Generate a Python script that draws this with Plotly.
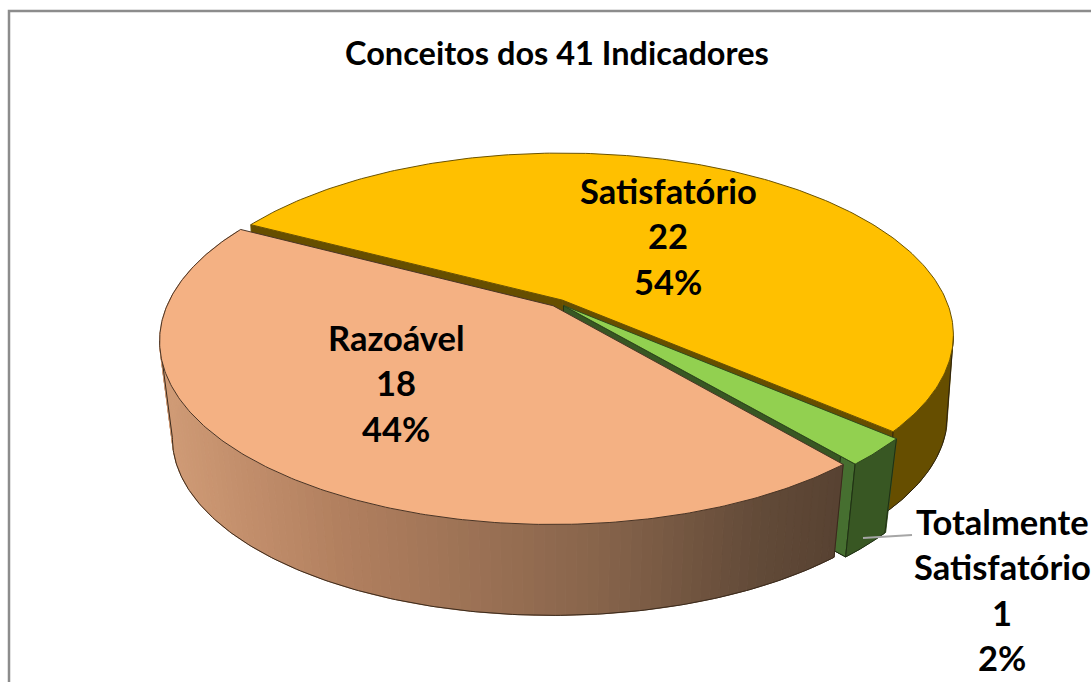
import numpy as np
import plotly.graph_objects as go

# DATA
categories = ['Satisfatório', 'Totalmente Satisfatório', 'Razoável']
values = [22, 1, 18]
title_text = 'Conceitos dos 41 Indicadores'

# PIE GEOMETRY (screen pixels)
START_ANGLE = 152
CX, CY = 558, 303
RX, RY = 385, 176
PERSP = 0.19
EXPLODE = 0.02
bottom_scales = [0.985, 0.968, 0.968]
bottom_drops = [81, 98, 98]

top_colors = ['#FFC000', '#92D050', '#F4B183']
side_colors = ['#664E00', '#385723', None]
edge_colors = ['#6b5200', '#2f4a1d', '#4a3526']


def project(u, v, drop=None, scale=1):
    w = 1 + PERSP * v
    x = CX + RX * u / w
    y = CY - RY * v / w
    if drop is not None:
        x = CX + (x - CX) * scale
        y = CY + (y - CY) * scale + drop
    return x, y


def arc(a0, a1, mid, drop=None, scale=1, n=240):
    t = np.radians(np.linspace(a0, a1, n))
    ox, oy = EXPLODE * np.cos(np.radians(mid)), EXPLODE * np.sin(np.radians(mid))
    return project(ox + np.cos(t), oy + np.sin(t), drop, scale)


def apex(mid, drop=None, scale=1):
    return project(EXPLODE * np.cos(np.radians(mid)), EXPLODE * np.sin(np.radians(mid)), drop, scale)


def razoavel_shade(x):
    # banded shading across the front wall, left to right
    xs = [165, 340, 600, 760, 840]
    r = np.interp(x, xs, [208, 178, 135, 98, 88])
    g = np.interp(x, xs, [155, 128, 100, 74, 66])
    b = np.interp(x, xs, [118, 95, 75, 56, 50])
    return f'rgb({r:.0f},{g:.0f},{b:.0f})'


def poly(fig, xs, ys, fill, line=None, width=1):
    fig.add_trace(go.Scatter(
        x=list(xs), y=list(ys), mode='lines', fill='toself' if fill else None,
        fillcolor=fill, line=dict(color=line or fill, width=width),
        hoverinfo='skip', showlegend=False,
    ))


def outline(fig, xs, ys, color):
    fig.add_trace(go.Scatter(
        x=list(xs), y=list(ys), mode='lines', line=dict(color=color, width=1),
        hoverinfo='skip', showlegend=False,
    ))


fig = go.Figure()

total = sum(values)
angle = START_ANGLE
for i, val in enumerate(values):
    sweep = 360 * val / total
    a0, a1 = angle, angle - sweep
    angle = a1
    mid = (a0 + a1) / 2
    drop, scale = bottom_drops[i], bottom_scales[i]
    ax, ay = apex(mid)
    bx, by = apex(mid, drop, scale)

    # cut walls, drawn first so the neighbouring slices sit over them
    if categories[i] == 'Satisfatório':
        for ang in (a0, a1):
            tx, ty = arc(ang, ang, mid, n=1)
            ux, uy = arc(ang, ang, mid, drop, scale, n=1)
            poly(fig, [ax, tx[0], ux[0], bx, ax], [ay, ty[0], uy[0], by, ay],
                 side_colors[i], edge_colors[i])
    if categories[i] == 'Totalmente Satisfatório':
        tx, ty = arc(a1, a1, mid, n=1)
        ux, uy = arc(a1, a1, mid, drop, scale, n=1)
        poly(fig, [ax, tx[0], ux[0], bx, ax], [ay, ty[0], uy[0], by, ay],
             side_colors[i], '#1f2f14')
        # lit end of that wall, next to the rim
        r = 0.95
        mx, my = ax + (tx[0] - ax) * r, ay + (ty[0] - ay) * r
        nx, ny = bx + (ux[0] - bx) * r, by + (uy[0] - by) * r
        poly(fig, [mx, tx[0], ux[0], nx, mx], [my, ty[0], uy[0], ny, my], '#466F30', '#1f2f14')

    # outer wall
    xt, yt = arc(a0, a1, mid)
    xb, yb = arc(a0, a1, mid, drop, scale)
    if categories[i] == 'Satisfatório':
        # only from the rightmost point on, the far part is behind the top face
        jt, jb = int(np.argmax(xt)), int(np.argmax(xb))
        poly(fig, np.r_[xt[jt:], xb[jb:][::-1], xt[jt]], np.r_[yt[jt:], yb[jb:][::-1], yt[jt]], side_colors[i])
        outline(fig, np.r_[xt[jt], xb[jb:], xt[-1]], np.r_[yt[jt], yb[jb:], yt[-1]], '#2b2110')
    elif categories[i] == 'Razoável':
        step = 2
        for k in range(0, len(xt) - step, step):
            qx = [xt[k], xt[k + step], xb[k + step], xb[k], xt[k]]
            qy = [yt[k], yt[k + step], yb[k + step], yb[k], yt[k]]
            poly(fig, qx, qy, razoavel_shade(np.mean(qx)))
        jt, jb = int(np.argmin(xt)), int(np.argmin(xb))
        outline(fig, np.r_[xt[0], xb[:jb + 1], xt[jt]], np.r_[yt[0], yb[:jb + 1], yt[jt]], '#3a2a1c')
    else:
        poly(fig, np.r_[xt, xb[::-1], xt[0]], np.r_[yt, yb[::-1], yt[0]], side_colors[i])
        outline(fig, np.r_[xt[0], xb, xt[-1]], np.r_[yt[0], yb, yt[-1]], '#1f2f14')

    # top face
    poly(fig, np.r_[ax, xt, ax], np.r_[ay, yt, ay], top_colors[i], edge_colors[i], 1)

# leader line of the small slice
fig.add_shape(type='line', x0=863, y0=538, x1=912, y1=535, line=dict(color='#A6A6A6', width=2))

# frame of the chart area, runs off the right and bottom of the picture
fig.add_shape(type='rect', x0=9, y0=11, x1=1300, y1=900, line=dict(color='#8C8C8C', width=2.5))

LABEL_FONT = dict(family='Lato, Carlito, sans-serif', size=34.5, color='#000000')


def label(lines, x, y0, gap=45.5):
    for n, txt in enumerate(lines):
        fig.add_annotation(x=x, y=y0 + n * gap, text=f'<b>{txt}</b>', showarrow=False,
                           xanchor='center', yanchor='middle', font=LABEL_FONT)


pct = [f'{round(100 * v / total)}%' for v in values]
label([categories[0], str(values[0]), pct[0]], 668, 190)
label([categories[2], str(values[2]), pct[2]], 396, 337)
label(categories[1].split(' ') + [str(values[1]), pct[1]], 1002, 521)

fig.add_annotation(x=557, y=52, text=f'<b>{title_text}</b>', showarrow=False,
                   xanchor='center', yanchor='middle',
                   font=dict(family='Lato, Carlito, sans-serif', size=32.5, color='#000000'))

fig.update_layout(
    width=1091, height=682, autosize=False,
    margin=dict(l=0, r=0, t=0, b=0),
    paper_bgcolor='white', plot_bgcolor='white',
    xaxis=dict(range=[0, 1091], visible=False, fixedrange=True),
    yaxis=dict(range=[682, 0], visible=False, fixedrange=True),
)

fig.write_html('out.html', post_script="document.body.style.margin='0';document.body.style.overflow='hidden';",
               config={'displayModeBar': False})
